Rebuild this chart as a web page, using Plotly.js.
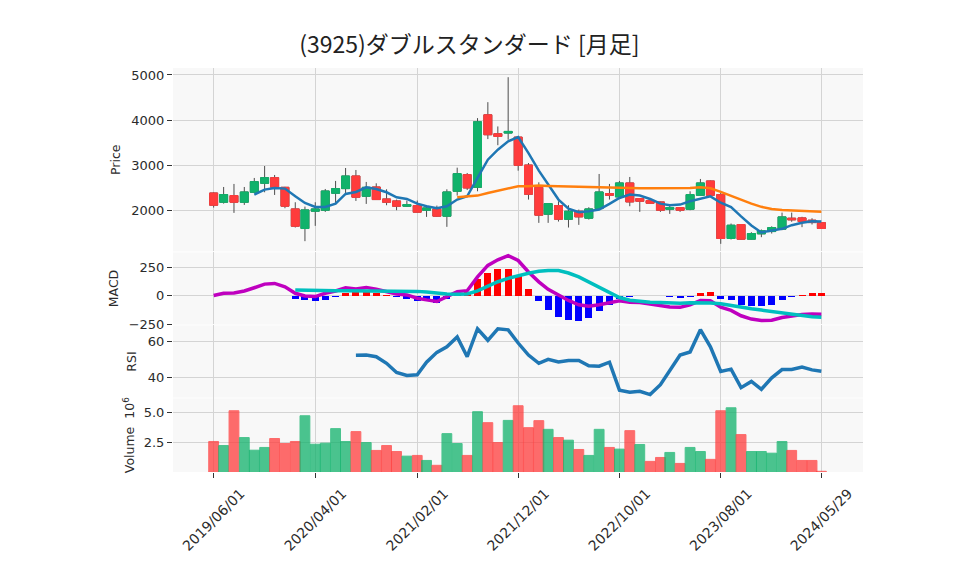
<!DOCTYPE html>
<html><head><meta charset="utf-8">
<script src="https://cdn.plot.ly/plotly-3.0.1.min.js"></script>
<style>html,body{margin:0;padding:0;background:#fff}#chart{width:958px;height:575px}</style>
</head><body><div id="chart"></div>
<script>
const chartTitle = '(3925)ダブルスタンダード [月足]';
const dates = [
 '2019-06-01','2019-07-01','2019-08-01','2019-09-01','2019-10-01','2019-11-01','2019-12-01',
 '2020-01-01','2020-02-01','2020-03-01','2020-04-01','2020-05-01','2020-06-01','2020-07-01','2020-08-01','2020-09-01','2020-10-01','2020-11-01','2020-12-01',
 '2021-01-01','2021-02-01','2021-03-01','2021-04-01','2021-05-01','2021-06-01','2021-07-01','2021-08-01','2021-09-01','2021-10-01','2021-11-01','2021-12-01',
 '2022-01-01','2022-02-01','2022-03-01','2022-04-01','2022-05-01','2022-06-01','2022-07-01','2022-08-01','2022-09-01','2022-10-01','2022-11-01','2022-12-01',
 '2023-01-01','2023-02-01','2023-03-01','2023-04-01','2023-05-01','2023-06-01','2023-07-01','2023-08-01','2023-09-01','2023-10-01','2023-11-01','2023-12-01',
 '2024-01-01','2024-02-01','2024-03-01','2024-04-01','2024-05-01','2024-05-29'];
const openP = [2396,2191,2338,2191,2411,2609,2734,2521,2044,1611, 1993,2015,2389,2492,2771,2323,2528,2264,2220,2103, 2117,2015,2044,1883,2433,2800,2521,4121,3703,3718, 3629,3013,2521,1927,2117,1816,1993,1839,2051,2382, 2308,2617,2272,2228,2198,2037,2073,2037,2345,2661, 2360,1391,1699,1377,1494,1544,1597,1839,1846,1795,1742];
const highP = [2410,2528,2595,2528,2727,2991,2793,2530,2191,2095, 2191,2484,2661,2947,2903,2639,2609,2477,2250,2228, 2228,2125,2117,2477,2954,2837,4048,4400,3864,4951, 3640,3057,2631,2161,2213,2125,2029,2081,2815,2595, 2661,2749,2280,2264,2205,2139,2080,2433,2705,2670, 2420,1721,1705,1530,1590,1660,1963,1963,1870,1838,1745];
const lowP = [2073,2161,1956,2132,2400,2411,2352,2059,1633,1332, 1670,1978,2176,2396,2220,2154,2242,2125,2015,2088, 1965,1868,1868,1648,2338,2462,2433,3585,3450,3571, 2888,2250,1736,1736,1765,1633,1692,1809,2037,2250, 2294,2103,1978,2161,1978,1934,1978,2015,2338,2308, 1273,1369,1365,1370,1420,1500,1574,1760,1641,1700,1610];
const closeP = [2125,2360,2191,2418,2646,2734,2521,2103,1662,2022, 2044,2440,2492,2771,2301,2521,2250,2191,2103,2139, 1971,2066,1883,2418,2822,2506,3967,3681,3644,3754, 3006,2367,1905,2161,1816,1993,1868,2044,2418,2345, 2617,2198,2213,2169,2015,2073,2015,2360,2617,2345, 1391,1684,1375,1500,1560,1632,1868,1802,1765,1742,1612];
const ma5 = [null,null,null,null,2360,2470,2506,2492,2323,2176, 2088,2088,2161,2374,2418,2521,2484,2411,2301,2264, 2161,2103,2059,2103,2250,2323,2727,3130,3351,3534, 3629,3277,2890,2590,2250,2051,1971,1993,2029,2154, 2286,2360,2338,2264,2161,2125,2139,2213,2264,2320, 2180,2085,1878,1680,1525,1560,1605,1685,1740,1772,1765];
const ma25 = [null,null,null,null,null,null,null,null,null,null, null,null,null,null,null,null,null,null,null,null, null,null,null,null,2301,2316,2338,2396,2448,2499, 2543,2543,2558,2550,2543,2543,2536,2521,2514,2506, 2499,2499,2499,2499,2499,2499,2499,2506,2521,2500, 2420,2330,2240,2160,2090,2040,2020,2010,2005,1995,1982];
const macd = [3,23,26,43,72,104,110,81,23,0, -6,23,43,72,61,75,58,40,17,9, -20,-35,-49,-6,38,46,168,269,318,355, 312,211,124,58,9,-40,-78,-92,-78,-64, -43,-55,-58,-72,-84,-98,-101,-78,-40,-42, -100,-128,-175,-204,-217,-215,-191,-175,-163,-160,-162];
const signal = [null,null,null,null,null,null,null,null,52,49, 46,46,46,46,46,46,46,43,43,43, 40,35,23,17,14,17,45,85,125,155, 180,200,217,225,223,202,168,124,81,29, -14,-38,-49,-55,-58,-64,-64,-61,-58,-62, -69,-85,-102,-114,-125,-138,-150,-162,-174,-183,-188];
const hist = [null,null,null,null,null,null,null,null,-23,-40, -49,-32,-6,29,32,32,26,9,-6,-23, -49,-49,-64,-29,10,35,153,205,234,234, 176,61,-49,-121,-188,-214,-223,-199,-136,-84, -30,-8,-2,-1,-3,-12,-20,-6,23,35, -26,-40,-78,-86,-92,-78,-40,-14,6,23,23];
const rsi = [null,null,null,null,null,null,null,null,null,null, null,null,null,null,52.3,52.4,51.5,47.9,42.9,41.3, 41.6,48.5,53.9,56.9,62.3,51.5,66.8,60.5,66.8,66.2, 59.0,52.4,47.9,50.1,48.6,49.4,49.5,46.5,46.3,48.5, 33.2,32.1,32.6,30.8,36.2,44.3,52.4,54.1,66.3,56.9, 43.4,44.7,34.6,38.0,33.7,40.0,44.5,44.5,45.8,44.3,43.6];
const volumeM = [2.56,2.22,5.14,2.89,1.83,2.06,2.81,2.39,2.56,4.72, 2.33,2.42,3.64,2.56,3.39,2.47,1.81,2.22,1.72,1.33, 1.39,0.97,0.56,3.22,2.39,1.39,5.06,4.14,2.47,4.33, 5.56,3.72,4.31,3.58,2.89,2.67,1.89,1.39,3.58,2.06, 1.92,3.47,2.31,0.89,1.22,1.64,0.72,2.06,1.72,1.06, 5.14,5.39,3.14,1.72,1.72,1.58,2.56,1.81,0.97,0.97,0.06];
const tickDates = ['2019-06-01','2020-04-01','2021-02-01','2021-12-01','2022-10-01','2023-08-01','2024-05-29'];
const tickLabels = ['2019/06/01','2020/04/01','2021/02/01','2021/12/01','2022/10/01','2023/08/01','2024/05/29'];

const UP = '#10b26b', DOWN = '#ff3c3c', WICK = '#4d4d4d';
const FONT = 'DejaVu Sans, Noto Sans CJK JP, sans-serif';
const TXT = '#2b2b2b';
const DAY = 86400000;

const bodyHigh = openP.map((o, i) => Math.max(o, closeP[i]));
const bodyLow = openP.map((o, i) => Math.min(o, closeP[i]));
const volColors = closeP.map((c, i) => (i === 0 ? c >= openP[0] : c >= closeP[i - 1]) ? UP : DOWN);
const histColors = hist.map(v => (v !== null && v >= 0) ? '#ff0000' : '#0000ff');

const traces = [
  {type: 'candlestick', x: dates, open: openP, high: highP, low: lowP, close: closeP,
   xaxis: 'x2', yaxis: 'y', showlegend: false, hoverinfo: 'skip', whiskerwidth: 0,
   increasing: {line: {color: WICK, width: 1}, fillcolor: WICK},
   decreasing: {line: {color: WICK, width: 1}, fillcolor: WICK}},
  {type: 'candlestick', x: dates, open: openP, high: bodyHigh, low: bodyLow, close: closeP,
   xaxis: 'x2', yaxis: 'y', showlegend: false, hoverinfo: 'skip', whiskerwidth: 0,
   increasing: {line: {color: UP, width: 1}, fillcolor: UP},
   decreasing: {line: {color: DOWN, width: 1}, fillcolor: DOWN}},
  {type: 'scatter', mode: 'lines', x: dates, y: ma5, xaxis: 'x2', yaxis: 'y', showlegend: false,
   line: {color: '#1f77b4', width: 2.5}},
  {type: 'scatter', mode: 'lines', x: dates, y: ma25, xaxis: 'x2', yaxis: 'y', showlegend: false,
   line: {color: '#ff7f0e', width: 2.5}},
  {type: 'bar', x: dates, y: hist, xaxis: 'x3', yaxis: 'y2', showlegend: false,
   marker: {color: histColors, line: {width: 0}}, width: 21 * DAY},
  {type: 'scatter', mode: 'lines', x: dates, y: macd, xaxis: 'x3', yaxis: 'y2', showlegend: false,
   line: {color: '#bf00bf', width: 3.5}},
  {type: 'scatter', mode: 'lines', x: dates, y: signal, xaxis: 'x3', yaxis: 'y2', showlegend: false,
   line: {color: '#00bfbf', width: 3.5}},
  {type: 'scatter', mode: 'lines', x: dates, y: rsi, xaxis: 'x4', yaxis: 'y3', showlegend: false,
   line: {color: '#1f77b4', width: 3.5}},
  {type: 'bar', x: dates, y: volumeM, xaxis: 'x', yaxis: 'y4', showlegend: false,
   marker: {color: volColors, opacity: 0.75, line: {color: volColors, width: 1}}, width: 29.5 * DAY}
];

const xRange = ['2019-01-30', '2024-10-01'];
const gridC = '#d4d4d4';
function xax(extra) {
  return Object.assign({type: 'date', range: xRange, tickvals: tickDates, ticktext: tickLabels,
    showgrid: true, gridcolor: gridC, gridwidth: 1, zeroline: false, showline: false,
    rangeslider: {visible: false}}, extra);
}
function yax(extra) {
  return Object.assign({showgrid: true, gridcolor: gridC, gridwidth: 1, zeroline: false, showline: false,
    ticks: 'outside', ticklen: 5, tickcolor: '#333', tickfont: {family: FONT, size: 13, color: TXT},
    fixedrange: true}, extra);
}

const layout = {
  width: 958, height: 575,
  margin: {l: 173, r: 95, t: 68, b: 103},
  paper_bgcolor: '#ffffff', plot_bgcolor: '#f8f8f8',
  font: {family: FONT, size: 13, color: TXT},
  showlegend: false,
  boxgap: 0.1, boxgroupgap: 0.05,
  bargap: 0,
  title: {text: chartTitle, x: 0.49, xanchor: 'center', y: 0.922, yanchor: 'middle', yref: 'container',
          font: {family: 'Noto Sans CJK JP, sans-serif', size: 23, color: '#222'}},
  xaxis: xax({anchor: 'y4', ticks: 'outside', ticklen: 5, tickcolor: '#333', tickangle: -45,
              ticklabelshift: 27, ticklabelstandoff: 2,
              tickfont: {family: FONT, size: 14, color: TXT}}),
  xaxis2: xax({anchor: 'y', matches: 'x', showticklabels: false}),
  xaxis3: xax({anchor: 'y2', matches: 'x', showticklabels: false}),
  xaxis4: xax({anchor: 'y3', matches: 'x', showticklabels: false}),
  yaxis: yax({domain: [0.5458, 1], range: [1104, 5154], tickvals: [2000, 3000, 4000, 5000],
              title: {text: 'Price', standoff: 7, font: {family: FONT, size: 12.5, color: TXT}}}),
  yaxis2: yax({domain: [0.3651, 0.5434], range: [-252, 383], tickvals: [-250, 0, 250],
              title: {text: 'MACD', standoff: 7, font: {family: FONT, size: 12.5, color: TXT}}}),
  yaxis3: yax({domain: [0.1844, 0.3627], range: [29.2, 68.6], tickvals: [40, 60],
              title: {text: 'RSI', standoff: 8, font: {family: FONT, size: 12.5, color: TXT}}}),
  yaxis4: yax({domain: [0, 0.182], range: [0, 6.17], tickvals: [2.5, 5.0], tickformat: '.1f',
              title: {text: 'Volume  10<sup>6</sup>', standoff: 6, font: {family: FONT, size: 12.5, color: TXT}}})
};

Plotly.newPlot('chart', traces, layout, {staticPlot: true, displayModeBar: false});
</script></body></html>
